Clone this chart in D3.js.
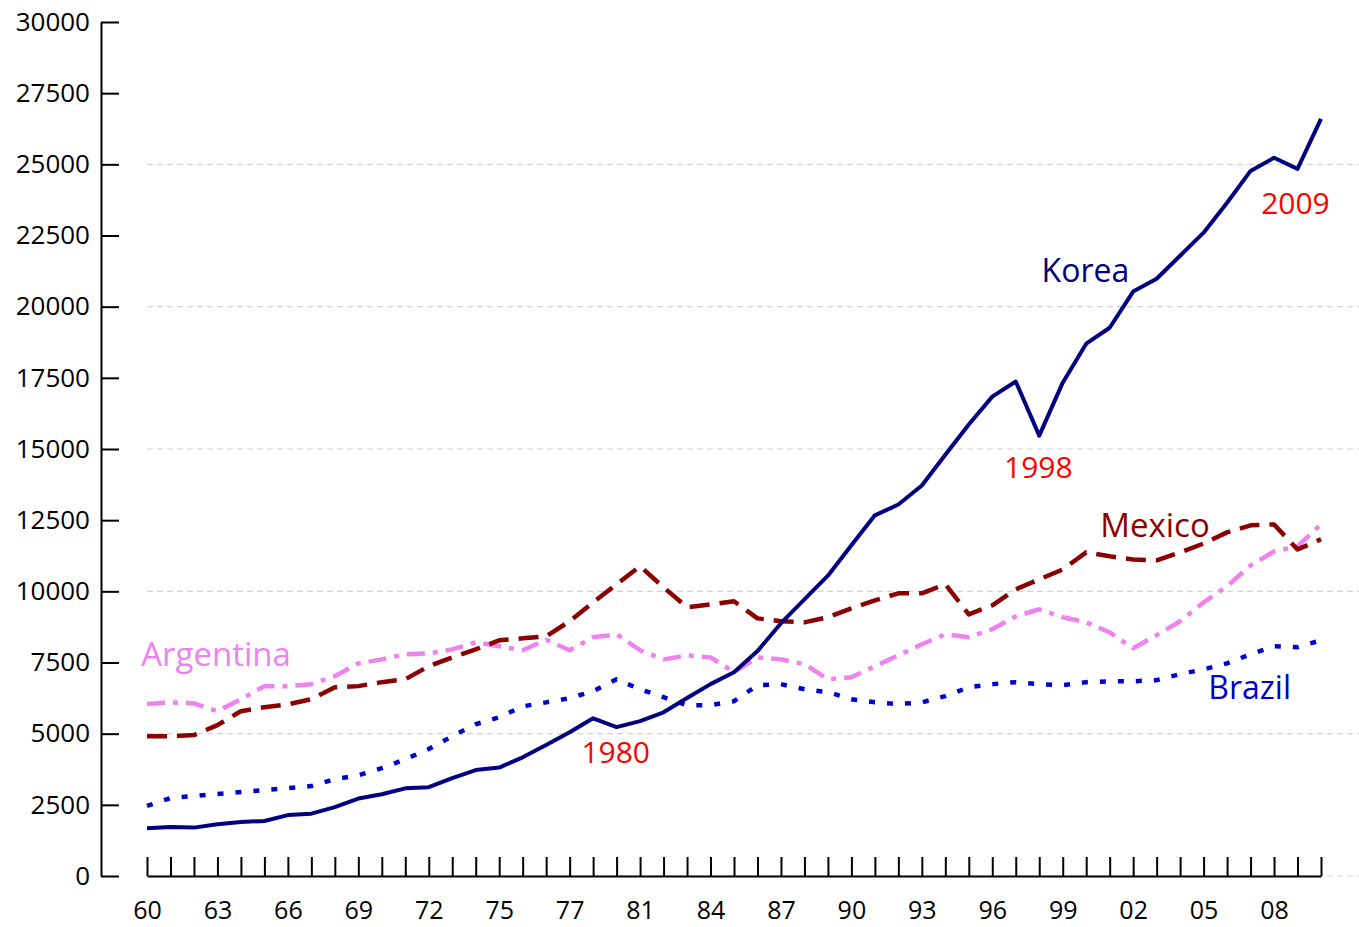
<!DOCTYPE html>
<html>
<head>
<meta charset="utf-8">
<script src="https://cdn.jsdelivr.net/npm/d3@7"></script>
<style>
  body { margin: 0; background: #fff; }
  svg { display: block; font-family: "Open Sans", "DejaVu Sans", sans-serif; }
</style>
</head>
<body>
<div class="container"></div>
<script>
// GDP per capita, 1960-2010
const years = d3.range(1960, 2011);

const korea = [1680, 1720, 1700, 1820, 1900, 1930, 2140, 2190, 2420, 2720,
  2870, 3080, 3120, 3440, 3720, 3810, 4170, 4600, 5050, 5540,
  5230, 5440, 5750, 6250, 6740, 7160, 7900, 8880, 9720, 10550,
  11620, 12670, 13050, 13720, 14800, 15860, 16840, 17370, 15470, 17330,
  18700, 19260, 20530, 20980, 21790, 22600, 23650, 24770, 25230, 24840,
  26600];

const brazil = [2460, 2740, 2810, 2880, 2950, 3020, 3090, 3160, 3400, 3540,
  3790, 4100, 4460, 4910, 5330, 5580, 5960, 6100, 6250, 6490,
  6910, 6560, 6280, 6000, 6000, 6140, 6700, 6740, 6560, 6460,
  6210, 6100, 6040, 6100, 6320, 6630, 6740, 6810, 6740, 6700,
  6810, 6840, 6840, 6880, 7090, 7260, 7470, 7790, 8070, 8040,
  8280];

const mexico = [4910, 4910, 4950, 5300, 5790, 5930, 6030, 6210, 6630, 6670,
  6810, 6910, 7370, 7680, 7960, 8280, 8350, 8420, 8950, 9610,
  10250, 10880, 10140, 9440, 9540, 9650, 9050, 8950, 8910, 9090,
  9400, 9680, 9930, 9930, 10250, 9190, 9510, 10070, 10420, 10770,
  11370, 11230, 11120, 11090, 11370, 11680, 12070, 12320, 12350, 11470,
  11830];

const argentina = [6040, 6100, 6060, 5790, 6210, 6670, 6670, 6740, 7020, 7470,
  7610, 7790, 7820, 7960, 8210, 8070, 7930, 8300, 7930, 8390,
  8490, 7930, 7610, 7750, 7680, 7160, 7680, 7610, 7440, 6910,
  6980, 7370, 7750, 8140, 8490, 8390, 8670, 9120, 9370, 9090,
  8910, 8560, 8000, 8460, 8950, 9610, 10180, 10910, 11400, 11580,
  12350];

// x tick labels (the original labels 1978 as "77")
const labelYears = [1960, 1963, 1966, 1969, 1972, 1975, 1978, 1981, 1984, 1987,
  1990, 1993, 1996, 1999, 2002, 2005, 2008];
const labelTexts = ["60", "63", "66", "69", "72", "75", "77", "81", "84", "87",
  "90", "93", "96", "99", "02", "05", "08"];

const yTicks = d3.range(0, 30001, 2500);
const gridTicks = d3.range(0, 25001, 5000);

// annotations, anchored in data units (year, value)
const notes = [
  { text: "Argentina", year: 1959.75, value: 7380, color: "violet", size: 33 },
  { text: "Korea", year: 1998.1, value: 20870, color: "#000080", size: 32 },
  { text: "Mexico", year: 2000.6, value: 11910, color: "#8b0000", size: 33 },
  { text: "Brazil", year: 2005.2, value: 6220, color: "#0000cd", size: 32 },
  { text: "1980", year: 1978.5, value: 3970, color: "red", size: 30 },
  { text: "1998", year: 1996.5, value: 13980, color: "red", size: 30 },
  { text: "2009", year: 2007.45, value: 23250, color: "red", size: 30 }
];

const width = 1359, height = 927;

const x = d3.scaleLinear().domain([1960, 2010]).range([147, 1321]);
const y = d3.scaleLinear().domain([0, 30000]).range([876, 22]);

const svg = d3.select(".container").append("svg")
  .attr("width", width)
  .attr("height", height);

// gridlines
svg.append("g")
  .selectAll("line")
  .data(gridTicks)
  .join("line")
  .attr("x1", x(1960))
  .attr("x2", width)
  .attr("y1", (d) => y(d))
  .attr("y2", (d) => y(d))
  .attr("stroke", "#d4d4d4")
  .attr("stroke-width", 1.2)
  .attr("stroke-dasharray", "6,4");

// axes
const yAxis = svg.append("g")
  .attr("transform", "translate(101,0)")
  .call(d3.axisLeft(y).tickValues(yTicks).tickFormat(d3.format("d"))
    .tickSizeInner(-18).tickSizeOuter(0).tickPadding(11));

const labelOf = new Map(labelYears.map((d, i) => [d, labelTexts[i]]));
const xAxis = svg.append("g")
  .attr("transform", `translate(0,${y(0)})`)
  .call(d3.axisBottom(x).tickValues(years).tickFormat((d) => labelOf.get(d) || "")
    .tickSizeInner(-19).tickSizeOuter(0).tickPadding(25));

[yAxis, xAxis].forEach((g) => {
  g.selectAll("path, line").attr("stroke", "#000").attr("stroke-width", 2);
  g.selectAll("text").attr("font-size", 26).attr("fill", "#000")
    .attr("font-family", "'Open Sans', sans-serif");
});
xAxis.selectAll("text").attr("font-size", 25);

// series
const line = d3.line().x((d, i) => x(years[i])).y((d) => y(d));

const series = [
  { values: brazil, color: "#0000cd", width: 4.5, dash: "6,12" },
  { values: argentina, color: "violet", width: 4.5, dash: "18,8,5,8" },
  { values: mexico, color: "#8b0000", width: 4.5, dash: "20,10" },
  { values: korea, color: "#000080", width: 4, dash: null }
];

svg.append("g")
  .attr("fill", "none")
  .selectAll("path")
  .data(series)
  .join("path")
  .attr("d", (d) => line(d.values))
  .attr("stroke", (d) => d.color)
  .attr("stroke-width", (d) => d.width)
  .attr("stroke-dasharray", (d) => d.dash)
  .attr("stroke-linejoin", "round");

// labels
svg.append("g")
  .selectAll("text")
  .data(notes)
  .join("text")
  .attr("x", (d) => x(d.year))
  .attr("y", (d) => y(d.value))
  .attr("fill", (d) => d.color)
  .attr("font-size", (d) => d.size)
  .text((d) => d.text);
</script>
</body>
</html>
